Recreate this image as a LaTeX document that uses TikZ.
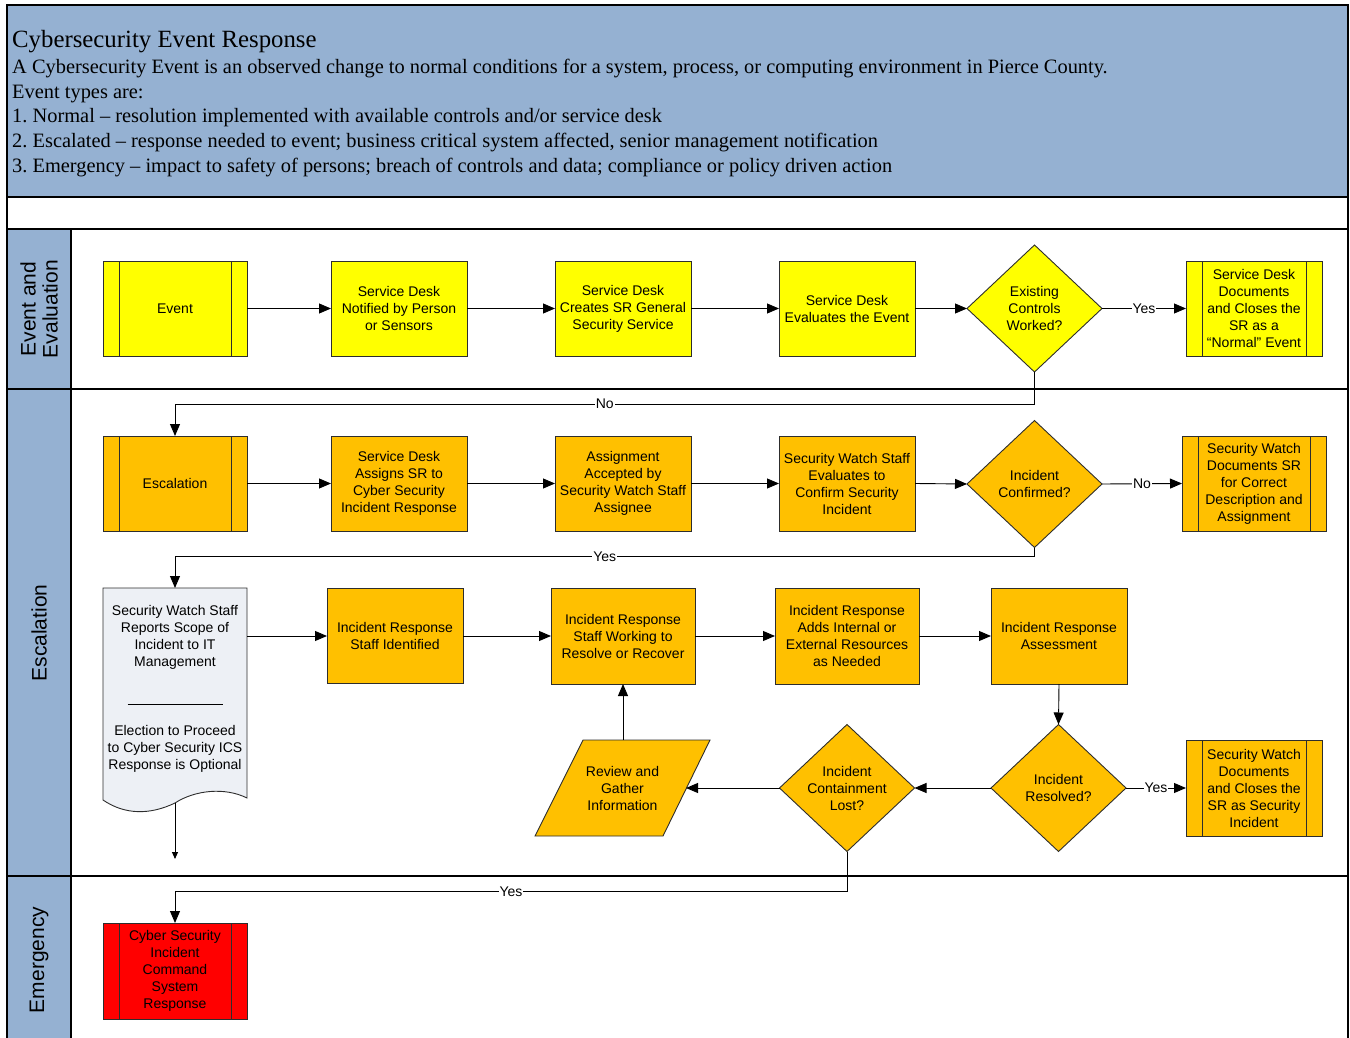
\documentclass[tikz,border=0pt]{standalone}
\usepackage{fontspec}
\setmainfont{Liberation Serif}
\setsansfont{Liberation Sans}
\usetikzlibrary{shapes.geometric,arrows.meta}
\definecolor{hdrblue}{RGB}{149,177,210}
\definecolor{ylw}{RGB}{255,255,0}
\definecolor{org}{RGB}{255,192,0}
\definecolor{rd}{RGB}{255,0,0}
\definecolor{docfill}{RGB}{237,240,245}
\definecolor{edge}{RGB}{45,45,45}
\frenchspacing
\begin{document}
\begin{tikzpicture}[x=1pt,y=-1pt,
  boxfont/.style={font=\sffamily\fontsize{14}{17}\selectfont},
  proc/.style={boxfont, draw=edge, line width=0.9pt, minimum width=136pt, minimum height=95pt,
    inner sep=0pt, outer sep=0pt, align=center},
  pp/.style={proc, minimum width=144pt,
    path picture={\draw[edge, line width=0.9pt]
      ([xshift=16pt]path picture bounding box.north west) -- ([xshift=16pt]path picture bounding box.south west)
      ([xshift=-16pt]path picture bounding box.north east) -- ([xshift=-16pt]path picture bounding box.south east);}},
  dia/.style={boxfont, diamond, draw=edge, line width=0.9pt, minimum width=135pt, minimum height=127pt,
    inner sep=0pt, outer sep=0pt, align=center},
  arr/.style={draw=black, line width=0.9pt, -{Triangle[length=12pt,width=10pt]}},
  arrsmall/.style={draw=black, line width=0.9pt, -{Triangle[length=7pt,width=6pt]}},
  lbl/.style={fill=white, inner sep=1pt, font=\sffamily\fontsize{14}{17}\selectfont},
  hdr/.style={anchor=base west, inner sep=0pt, font=\fontsize{20.4}{24}\selectfont},
  lanelbl/.style={rotate=90, align=center, inner sep=0pt, font=\sffamily\fontsize{21}{22}\selectfont},
  laneline/.style={draw=black, line width=1.4pt},
  shapeline/.style={draw=edge, line width=0.9pt}
]
\useasboundingbox (0,0) rectangle (1350,1038);

% ---- header ----
\fill[hdrblue] (7,5) rectangle (1348,197);
\fill[hdrblue] (7,229) rectangle (71,1045);
\draw[laneline] (7,5) rectangle (1348,197);
\draw[laneline] (7,197) -- (7,1045) (1348,197) -- (1348,1045);
\draw[laneline] (7,229) -- (1348,229);
\draw[laneline] (7,389) -- (1348,389);
\draw[laneline] (7,876) -- (1348,876);
\draw[laneline] (71,229) -- (71,1045);

\node[anchor=base west, inner sep=0pt, font=\fontsize{24.8}{28}\selectfont] (title) at (12,48) {Cybersecurity Event Response};
\node[hdr] (h1) at (12,74) {A Cybersecurity Event is an observed change to normal conditions for a system, process, or computing environment in Pierce County.};
\node[hdr] (h2) at (12,98.5) {Event types are:};
\node[hdr] (h3) at (12,123) {1. Normal – resolution implemented with available controls and/or service desk};
\node[hdr] (h4) at (12,148) {2. Escalated – response needed to event; business critical system affected, senior management notification};
\node[hdr] (h5) at (12,172.5) {3. Emergency – impact to safety of persons; breach of controls and data; compliance or policy driven action};

% ---- lane labels ----
\node[lanelbl] (lane1) at (39,309) {Event and\\Evaluation};
\node[lanelbl] (lane2) at (39,633) {Escalation};
\node[lanelbl] (lane3) at (39,960) {Emergency};

% ---- row 1 ----
\node[pp, fill=ylw] (ev) at (175,308.5) {Event};
\node[proc, fill=ylw] (sdn) at (399,308.5) {Service Desk\\Notified by Person\\or Sensors};
\node[proc, fill=ylw] (sdc) at (623,308.5) {Service Desk\\Creates SR General\\Security Service};
\node[proc, fill=ylw] (sde) at (847,308.5) {Service Desk\\Evaluates the Event};
\node[dia, fill=ylw] (ecw) at (1034.5,308.5) {Existing\\Controls\\Worked?};
\node[pp, fill=ylw, minimum width=136pt] (sdd) at (1254,308.5) {Service Desk\\Documents\\and Closes the\\SR as a\\“Normal” Event};

% ---- row 2 ----
\node[pp, fill=org] (esc) at (175,483.5) {Escalation};
\node[proc, fill=org] (sda) at (399,483.5) {Service Desk\\Assigns SR to\\Cyber Security\\Incident Response};
\node[proc, fill=org] (aas) at (623,483.5) {Assignment\\Accepted by\\Security Watch Staff\\Assignee};
\node[proc, fill=org] (swe) at (847,483.5) {Security Watch Staff\\Evaluates to\\Confirm Security\\Incident};
\node[dia, fill=org] (conf) at (1034.5,484) {Incident\\Confirmed?};
\node[pp, fill=org] (swd) at (1254,483.5) {Security Watch\\Documents SR\\for Correct\\Description and\\Assignment};

% ---- row 3 ----
\filldraw[fill=docfill, shapeline]
  (103,588) -- (247,588) -- (247,798)
  .. controls (225,787) and (195,790) .. (175,803)
  .. controls (150,815) and (125,815) .. (103,800) -- cycle;
\node[minimum width=144pt, minimum height=215pt, inner sep=0pt, outer sep=0pt] (doc) at (175,695.5) {};
\node[boxfont, align=center, inner sep=0pt] (doct1) at (175,637.5) {Security Watch Staff\\Reports Scope of\\Incident to IT\\Management};
\node[inner sep=0pt] (docrule) at (175,704) {\rule{95pt}{0.7pt}};
\node[boxfont, align=center, inner sep=0pt] (doct2) at (175,749) {Election to Proceed\\to Cyber Security ICS\\Response is Optional};
\coordinate (docend) at (175,859);

\node[proc, fill=org] (irs) at (395,636) {Incident Response\\Staff Identified};
\node[proc, fill=org, minimum width=144pt, minimum height=96pt] (irw) at (623,636) {Incident Response\\Staff Working to\\Resolve or Recover};
\node[proc, fill=org, minimum width=144pt, minimum height=96pt] (ira) at (847,636) {Incident Response\\Adds Internal or\\External Resources\\as Needed};
\node[proc, fill=org, minimum height=96pt] (ass) at (1059,636) {Incident Response\\Assessment};

% ---- row 4 ----
\filldraw[fill=org, shapeline] (535,836) -- (663,836) -- (710,740) -- (583,740) -- cycle;
\node[boxfont, align=center, minimum width=127pt, minimum height=96pt, inner sep=0pt, outer sep=0pt] (rev) at (622.5,788) {Review and\\Gather\\Information};
\node[dia, fill=org] (cont) at (847,788) {Incident\\Containment\\Lost?};
\node[dia, fill=org] (res) at (1058.5,788) {Incident\\Resolved?};
\node[pp, fill=org, minimum width=136pt, minimum height=96pt] (swc) at (1254,788) {Security Watch\\Documents\\and Closes the\\SR as Security\\Incident};

% ---- emergency ----
\node[pp, fill=rd, minimum height=96pt] (cs) at (175,971) {\raisebox{-2.5pt}{\begin{tabular}{@{}c@{}}Cyber Security\\Incident\\Command\\System\\Response\end{tabular}}};

% ---- connectors ----
\draw[arr] (ev.east) -- (sdn.west);
\draw[arr] (sdn.east) -- (sdc.west);
\draw[arr] (sdc.east) -- (sde.west);
\draw[arr] (sde.east) -- (ecw.west);
\draw[arr] (ecw.east) -- node[lbl] {Yes} (sdd.west);
\draw[arr] (ecw.south) -- ++(0,32) -| node[lbl, pos=0.25] {No} (esc.north);

\draw[arr] (esc.east) -- (sda.west);
\draw[arr] (sda.east) -- (aas.west);
\draw[arr] (aas.east) -- (swe.west);
\draw[arr] (swe.east) -- (conf.west);
\draw[arr] (conf.east) -- node[lbl] {No} (swd.west);
\draw[arr] (conf.south) -- ++(0,9) -| node[lbl, pos=0.25] {Yes} (doc.north);

\draw[arr] (irs.west -| doc.east) -- (irs.west);
\draw[arr] (irs.east) -- (irw.west);
\draw[arr] (irw.east) -- (ira.west);
\draw[arr] (ira.east) -- (ass.west);
\draw[arr] (ass.south) -- (res.north);
\draw[arr] (res.east) -- node[lbl] {Yes} (swc.west);
\draw[arr] (res.west) -- (cont.east);
\draw[arr] (cont.west) -- (rev.east);
\draw[arr] (irw.south |- rev.north) -- (irw.south);
\draw[arrsmall] (doc.south) -- (docend);
\draw[arr] (cont.south) -- ++(0,40) -| node[lbl, pos=0.25] {Yes} (cs.north);
\end{tikzpicture}
\end{document}
